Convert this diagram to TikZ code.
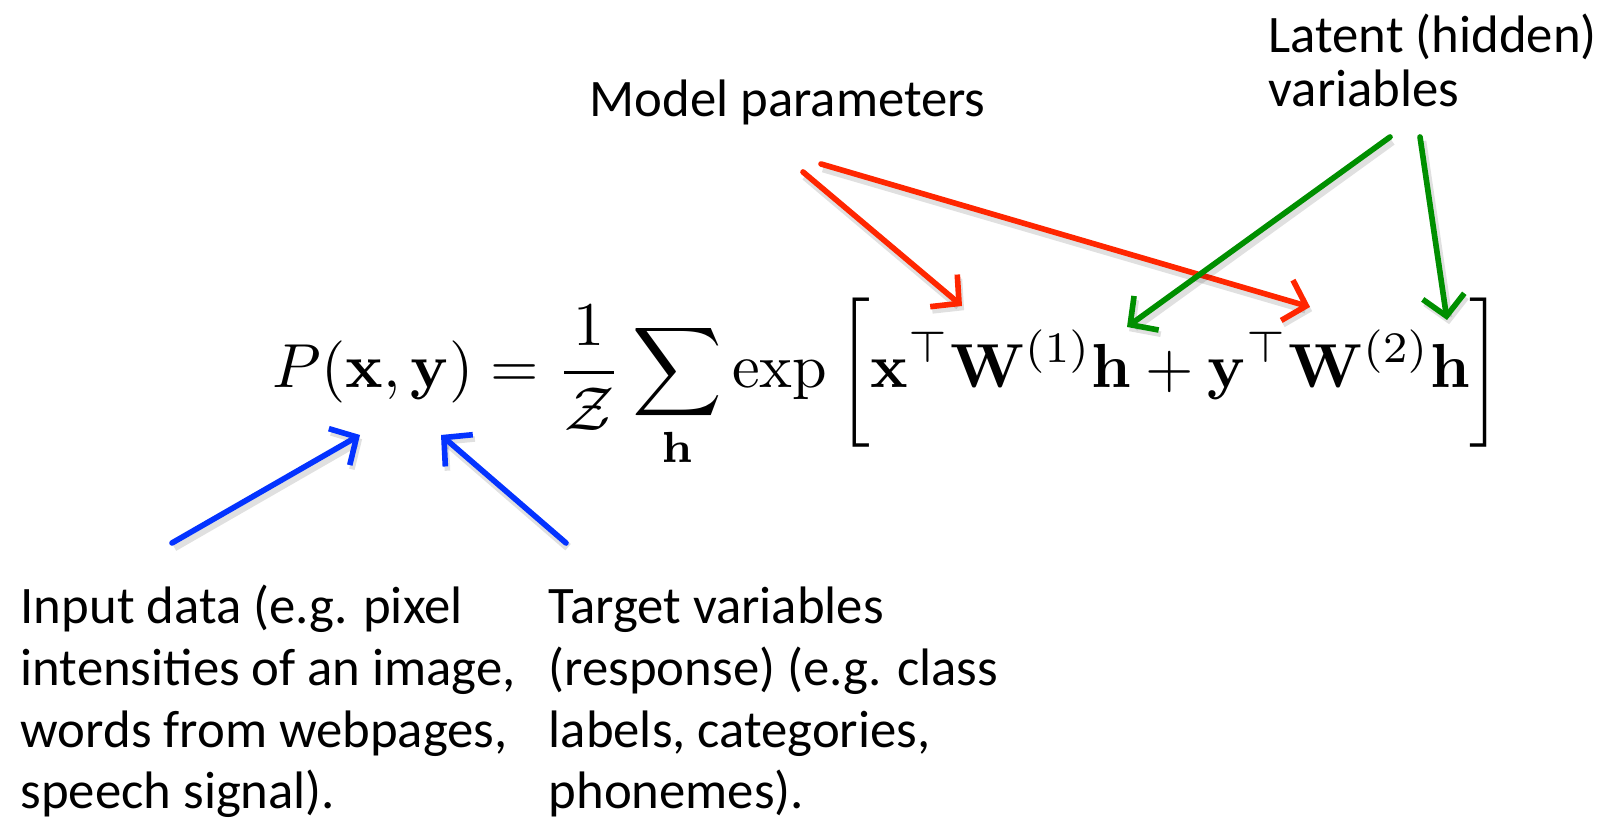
\documentclass[tikz,border=0pt]{standalone}
\usepackage{amsmath,amssymb}
\usepackage{graphicx}
\usepackage[no-math]{fontspec}
\setmainfont{Carlito}
\usepackage{xcolor}
\usetikzlibrary{arrows.meta,positioning,calc}

\definecolor{berry}{RGB}{4,51,255}
\definecolor{cherry}{RGB}{255,38,0}
\definecolor{clover}{RGB}{0,143,0}

\begin{document}
\begin{tikzpicture}[
    pointer/.style={line width=1.6pt, line cap=round, line join=round,
      -{Straight Barb[length=2mm,width=4.2mm,line width=1.6pt]},
      preaction={draw=black, opacity=0.12, line width=2.4pt,
        transform canvas={shift={(0.6pt,-1.2pt)}}}},
    caption/.style={inner sep=0pt, align=left, anchor=base west,
      font=\fontsize{15}{17.6}\selectfont}
  ]
\useasboundingbox (0,0) rectangle (16,8.21);

% the formula
\node[inner sep=0pt, anchor=base west] (eq) at (2.72,4.33)
  {\resizebox{12.3cm}{!}{$\displaystyle
   P(\mathbf{x},\mathbf{y}) = \frac{1}{\mathcal{Z}}\sum_{\mathbf{h}}\exp\bigg[
   \mathbf{x}^{\top}\mathbf{W}^{(1)}\mathbf{h}+\mathbf{y}^{\top}\mathbf{W}^{(2)}\mathbf{h}\bigg]$}};

% labels (base = last line)
\node[caption] (input) at (0.20,0.12)
  {Input data (e.g. pixel\\intensities of an image,\\words from webpages,\\speech signal).};
\node[caption] (target) at (5.48,0.12)
  {Target variables\\(response) (e.g. class\\labels, categories,\\phonemes).};
\node[caption] (model) at (5.89,7.04) {Model parameters};
\node[caption, font=\fontsize{15}{15.4}\selectfont] (latent) at (12.68,7.14)
  {Latent (hidden)\\variables};

% arrow ends
\coordinate (inTail)  at (1.72,2.78);
\coordinate (inTip)   at (3.60,3.86);
\coordinate (tgTail)  at (5.66,2.78);
\coordinate (tgTip)   at (4.41,3.86);
\coordinate (wATail)  at (8.03,6.49);
\coordinate (wATip)   at (9.62,5.15);
\coordinate (wBTail)  at (8.21,6.57);
\coordinate (wBTip)   at (13.10,5.14);
\coordinate (hATail)  at (13.90,6.84);
\coordinate (hATip)   at (11.27,4.94);
\coordinate (hBTail)  at (14.20,6.84);
\coordinate (hBTip)   at (14.47,5.01);

\draw[pointer, berry] (inTail) -- (inTip);
\draw[pointer, berry] (tgTail) -- (tgTip);
\draw[pointer, cherry] (wATail) -- (wATip);
\draw[pointer, cherry] (wBTail) -- (wBTip);
\draw[pointer, clover] (hATail) -- (hATip);
\draw[pointer, clover] (hBTail) -- (hBTip);

\end{tikzpicture}
\end{document}
